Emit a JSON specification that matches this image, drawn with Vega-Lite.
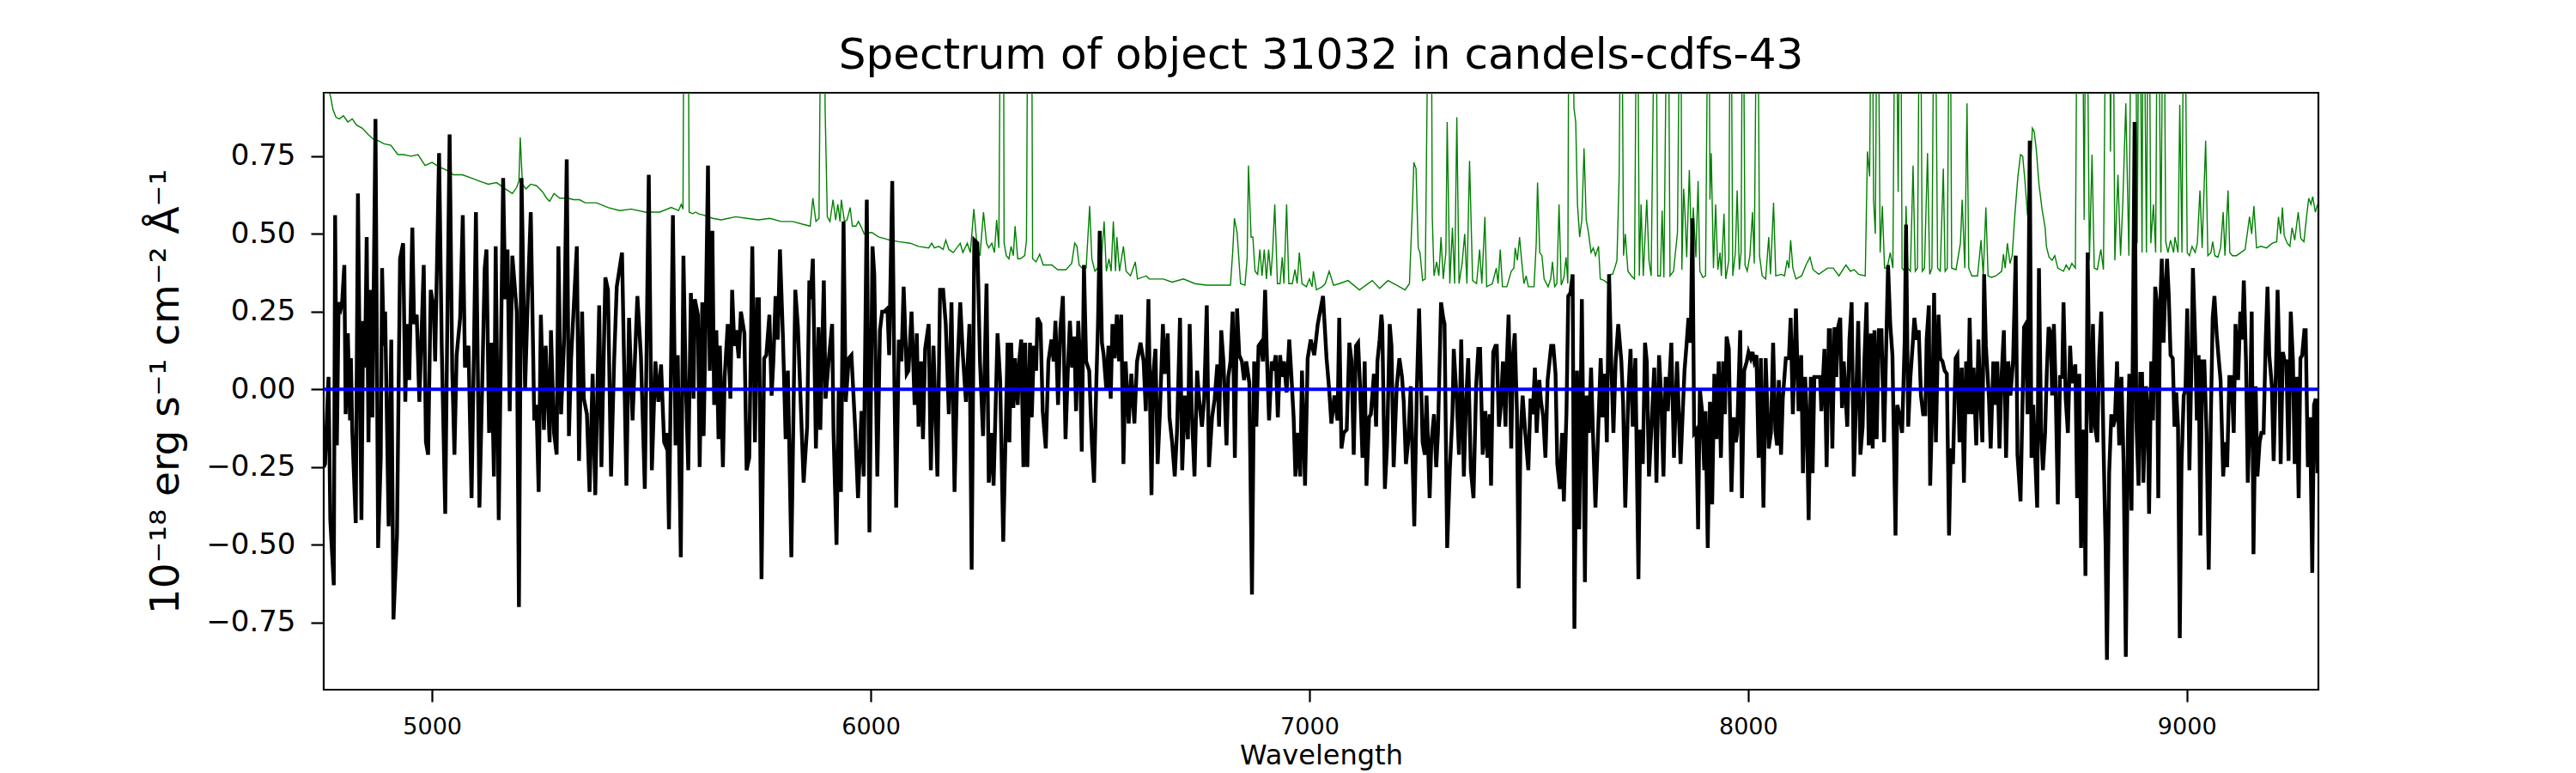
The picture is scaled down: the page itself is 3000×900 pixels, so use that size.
{
  "$schema": "https://vega.github.io/schema/vega-lite/v6.json",
  "autosize": {"type": "none"},
  "padding": {"left": 377, "top": 108, "right": 300, "bottom": 97},
  "width": 2323,
  "height": 695,
  "background": "white",
  "config": {
    "font": "DejaVu Sans",
    "view": {"stroke": "black", "strokeWidth": 2.2},
    "axis": {
      "grid": false,
      "domain": false,
      "tickColor": "black",
      "tickWidth": 2.2,
      "labelColor": "black",
      "titleColor": "black",
      "titleFontWeight": "normal",
      "labelFont": "DejaVu Sans",
      "titleFont": "DejaVu Sans"
    }
  },
  "title": {
    "text": "Spectrum of object 31032 in candels-cdfs-43",
    "font": "DejaVu Sans",
    "fontSize": 50,
    "fontWeight": "normal",
    "color": "black",
    "anchor": "middle",
    "frame": "group",
    "baseline": "bottom",
    "offset": 13,
    "dy": 45
  },
  "datasets": {
    "flux": [
      {"w":4753,"f":-0.25},{"w":4756,"f":-0.24},{"w":4764,"f":0.04},{"w":4768,"f":-0.42},{"w":4776,"f":-0.63},{"w":4779,"f":0.56},{"w":4783,"f":-0.18},{"w":4787,"f":0.28},{"w":4792,"f":0.26},{"w":4795,"f":0.28},
      {"w":4800,"f":0.40},{"w":4803,"f":-0.08},{"w":4808,"f":0.18},{"w":4813,"f":-0.10},{"w":4815,"f":0.10},{"w":4818,"f":-0.13},{"w":4826,"f":-0.43},{"w":4831,"f":0.63},{"w":4839,"f":-0.42},{"w":4843,"f":0.22},
      {"w":4847,"f":0.07},{"w":4851,"f":0.49},{"w":4855,"f":-0.17},{"w":4859,"f":0.32},{"w":4864,"f":-0.09},{"w":4867,"f":0.33},{"w":4871,"f":0.87},{"w":4877,"f":-0.51},{"w":4883,"f":-0.22},{"w":4886,"f":0.39},
      {"w":4890,"f":0.14},{"w":4893,"f":0.25},{"w":4901,"f":-0.44},{"w":4907,"f":0.16},{"w":4912,"f":-0.74},{"w":4920,"f":-0.47},{"w":4927,"f":0.42},{"w":4934,"f":0.47},{"w":4939,"f":-0.04},{"w":4943,"f":0.21},
      {"w":4948,"f":0.03},{"w":4955,"f":0.52},{"w":4959,"f":0.21},{"w":4965,"f":0.24},{"w":4971,"f":-0.04},{"w":4981,"f":0.40},{"w":4986,"f":-0.17},{"w":4991,"f":-0.21},{"w":4997,"f":0.32},{"w":5004,"f":0.26},
      {"w":5007,"f":0.09},{"w":5016,"f":0.76},{"w":5022,"f":0.14},{"w":5030,"f":-0.40},{"w":5034,"f":0.12},{"w":5040,"f":0.82},{"w":5046,"f":0.06},{"w":5051,"f":-0.21},{"w":5056,"f":0.11},{"w":5064,"f":0.23},
      {"w":5070,"f":0.56},{"w":5075,"f":0.07},{"w":5083,"f":0.14},{"w":5090,"f":-0.35},{"w":5095,"f":0.09},{"w":5100,"f":0.57},{"w":5108,"f":-0.38},{"w":5115,"f":0.06},{"w":5120,"f":0.39},{"w":5124,"f":0.45},
      {"w":5130,"f":-0.14},{"w":5135,"f":0.15},{"w":5141,"f":-0.28},{"w":5145,"f":0.46},{"w":5152,"f":-0.42},{"w":5162,"f":0.68},{"w":5167,"f":0.29},{"w":5172,"f":0.45},{"w":5177,"f":-0.07},{"w":5183,"f":0.43},
      {"w":5193,"f":0.25},{"w":5198,"f":-0.70},{"w":5204,"f":0.68},{"w":5212,"f":0.00},{"w":5219,"f":0.33},{"w":5225,"f":0.57},{"w":5233,"f":-0.10},{"w":5238,"f":-0.05},{"w":5243,"f":-0.33},{"w":5248,"f":0.24},
      {"w":5255,"f":-0.13},{"w":5259,"f":0.14},{"w":5268,"f":-0.17},{"w":5271,"f":0.19},{"w":5278,"f":-0.14},{"w":5284,"f":-0.21},{"w":5288,"f":0.46},{"w":5294,"f":-0.08},{"w":5301,"f":0.16},{"w":5307,"f":0.74},
      {"w":5312,"f":-0.15},{"w":5317,"f":0.10},{"w":5330,"f":0.46},{"w":5335,"f":-0.23},{"w":5342,"f":0.25},{"w":5346,"f":-0.03},{"w":5353,"f":-0.08},{"w":5359,"f":-0.33},{"w":5366,"f":0.05},{"w":5372,"f":-0.34},
      {"w":5381,"f":0.27},{"w":5386,"f":-0.25},{"w":5395,"f":0.36},{"w":5401,"f":0.32},{"w":5408,"f":-0.28},{"w":5415,"f":0.09},{"w":5421,"f":0.33},{"w":5433,"f":0.44},{"w":5443,"f":-0.31},{"w":5449,"f":0.23},
      {"w":5457,"f":-0.10},{"w":5468,"f":0.30},{"w":5476,"f":0.11},{"w":5485,"f":-0.32},{"w":5494,"f":0.69},{"w":5501,"f":-0.26},{"w":5509,"f":0.09},{"w":5516,"f":-0.04},{"w":5522,"f":0.08},{"w":5529,"f":-0.17},
      {"w":5532,"f":-0.18},{"w":5536,"f":-0.14},{"w":5540,"f":-0.45},{"w":5549,"f":0.56},{"w":5555,"f":-0.18},{"w":5560,"f":0.11},{"w":5567,"f":-0.54},{"w":5573,"f":0.43},{"w":5578,"f":0.04},{"w":5584,"f":-0.26},
      {"w":5590,"f":0.31},{"w":5596,"f":-0.03},{"w":5599,"f":0.29},{"w":5606,"f":0.24},{"w":5610,"f":-0.25},{"w":5616,"f":0.28},{"w":5619,"f":-0.15},{"w":5624,"f":0.24},{"w":5629,"f":0.72},{"w":5633,"f":0.06},
      {"w":5639,"f":0.51},{"w":5643,"f":-0.05},{"w":5648,"f":0.19},{"w":5653,"f":-0.16},{"w":5656,"f":0.14},{"w":5663,"f":-0.25},{"w":5667,"f":0.04},{"w":5674,"f":0.21},{"w":5680,"f":-0.03},{"w":5684,"f":0.32},
      {"w":5689,"f":0.14},{"w":5693,"f":0.19},{"w":5699,"f":0.10},{"w":5704,"f":0.25},{"w":5712,"f":0.18},{"w":5717,"f":-0.26},{"w":5723,"f":-0.22},{"w":5730,"f":0.46},{"w":5736,"f":-0.17},{"w":5741,"f":0.29},
      {"w":5745,"f":0.29},{"w":5751,"f":-0.61},{"w":5757,"f":0.10},{"w":5762,"f":0.11},{"w":5769,"f":0.24},{"w":5774,"f":-0.02},{"w":5778,"f":0.09},{"w":5783,"f":0.30},{"w":5788,"f":0.16},{"w":5793,"f":0.45},
      {"w":5800,"f":0.16},{"w":5806,"f":-0.16},{"w":5811,"f":0.06},{"w":5819,"f":-0.54},{"w":5828,"f":0.32},{"w":5834,"f":0.20},{"w":5841,"f":-0.07},{"w":5847,"f":-0.30},{"w":5855,"f":-0.12},{"w":5860,"f":0.35},
      {"w":5863,"f":0.29},{"w":5868,"f":0.42},{"w":5875,"f":-0.19},{"w":5881,"f":0.20},{"w":5885,"f":-0.13},{"w":5893,"f":0.35},{"w":5897,"f":-0.03},{"w":5904,"f":0.09},{"w":5912,"f":0.21},{"w":5915,"f":-0.13},
      {"w":5922,"f":-0.50},{"w":5927,"f":0.00},{"w":5932,"f":-0.33},{"w":5938,"f":0.54},{"w":5943,"f":-0.04},{"w":5950,"f":0.10},{"w":5956,"f":0.11},{"w":5965,"f":-0.14},{"w":5971,"f":-0.35},{"w":5979,"f":-0.07},
      {"w":5984,"f":-0.28},{"w":5991,"f":0.61},{"w":5997,"f":-0.46},{"w":6004,"f":0.46},{"w":6008,"f":0.37},{"w":6015,"f":-0.28},{"w":6021,"f":0.19},{"w":6026,"f":0.25},{"w":6031,"f":0.25},{"w":6038,"f":0.26},
      {"w":6042,"f":0.11},{"w":6049,"f":0.67},{"w":6054,"f":0.01},{"w":6058,"f":-0.38},{"w":6064,"f":0.16},{"w":6070,"f":0.09},{"w":6075,"f":0.33},{"w":6082,"f":0.05},{"w":6086,"f":0.06},{"w":6093,"f":0.25},
      {"w":6100,"f":-0.05},{"w":6105,"f":0.18},{"w":6109,"f":-0.12},{"w":6115,"f":0.09},{"w":6119,"f":-0.16},{"w":6124,"f":0.13},{"w":6132,"f":0.21},{"w":6137,"f":-0.26},{"w":6143,"f":0.14},{"w":6152,"f":-0.28},
      {"w":6158,"f":0.32},{"w":6165,"f":0.32},{"w":6171,"f":0.21},{"w":6178,"f":-0.08},{"w":6184,"f":0.28},{"w":6191,"f":-0.33},{"w":6197,"f":0.05},{"w":6204,"f":0.28},{"w":6210,"f":0.11},{"w":6217,"f":-0.04},
      {"w":6225,"f":0.21},{"w":6230,"f":-0.58},{"w":6236,"f":0.48},{"w":6243,"f":0.47},{"w":6249,"f":0.09},{"w":6256,"f":-0.15},{"w":6264,"f":0.34},{"w":6269,"f":-0.30},{"w":6276,"f":-0.14},{"w":6280,"f":-0.31},
      {"w":6289,"f":0.18},{"w":6295,"f":0.03},{"w":6302,"f":-0.49},{"w":6312,"f":0.15},{"w":6316,"f":-0.17},{"w":6320,"f":0.15},{"w":6325,"f":-0.06},{"w":6329,"f":0.10},{"w":6335,"f":-0.05},{"w":6339,"f":0.10},
      {"w":6343,"f":0.16},{"w":6348,"f":-0.25},{"w":6352,"f":0.15},{"w":6357,"f":-0.25},{"w":6363,"f":0.15},{"w":6367,"f":-0.09},{"w":6372,"f":0.14},{"w":6377,"f":0.06},{"w":6380,"f":0.23},{"w":6387,"f":0.21},
      {"w":6392,"f":-0.07},{"w":6399,"f":-0.19},{"w":6405,"f":0.09},{"w":6412,"f":0.16},{"w":6417,"f":0.09},{"w":6421,"f":0.22},{"w":6427,"f":-0.05},{"w":6432,"f":0.19},{"w":6438,"f":0.30},{"w":6444,"f":-0.16},
      {"w":6449,"f":0.05},{"w":6454,"f":0.22},{"w":6459,"f":0.07},{"w":6464,"f":0.17},{"w":6468,"f":-0.07},{"w":6473,"f":0.22},{"w":6477,"f":0.10},{"w":6481,"f":-0.20},{"w":6486,"f":0.40},{"w":6491,"f":0.09},
      {"w":6498,"f":0.06},{"w":6504,"f":-0.17},{"w":6509,"f":-0.30},{"w":6514,"f":0.01},{"w":6518,"f":0.21},{"w":6522,"f":0.51},{"w":6527,"f":0.15},{"w":6531,"f":0.11},{"w":6537,"f":0.00},{"w":6542,"f":0.14},
      {"w":6547,"f":-0.03},{"w":6551,"f":0.21},{"w":6556,"f":0.10},{"w":6561,"f":0.24},{"w":6566,"f":0.09},{"w":6571,"f":0.24},{"w":6576,"f":-0.24},{"w":6581,"f":0.09},{"w":6588,"f":-0.11},{"w":6594,"f":0.05},
      {"w":6601,"f":-0.11},{"w":6607,"f":0.09},{"w":6615,"f":0.15},{"w":6622,"f":0.09},{"w":6627,"f":-0.07},{"w":6633,"f":0.29},{"w":6640,"f":-0.34},{"w":6644,"f":0.05},{"w":6649,"f":0.13},{"w":6654,"f":-0.24},
      {"w":6659,"f":-0.08},{"w":6666,"f":0.21},{"w":6670,"f":0.05},{"w":6677,"f":0.18},{"w":6681,"f":-0.09},{"w":6687,"f":-0.17},{"w":6693,"f":-0.28},{"w":6698,"f":-0.14},{"w":6705,"f":0.23},{"w":6710,"f":-0.26},
      {"w":6716,"f":-0.02},{"w":6723,"f":-0.16},{"w":6727,"f":0.21},{"w":6732,"f":-0.08},{"w":6738,"f":-0.28},{"w":6744,"f":0.06},{"w":6749,"f":-0.04},{"w":6755,"f":-0.12},{"w":6760,"f":-0.03},{"w":6766,"f":0.27},
      {"w":6771,"f":-0.25},{"w":6778,"f":-0.09},{"w":6784,"f":-0.03},{"w":6790,"f":0.08},{"w":6794,"f":-0.12},{"w":6799,"f":0.19},{"w":6804,"f":0.09},{"w":6811,"f":-0.18},{"w":6815,"f":0.04},{"w":6820,"f":0.09},
      {"w":6825,"f":0.25},{"w":6830,"f":-0.22},{"w":6835,"f":0.26},{"w":6840,"f":0.11},{"w":6846,"f":0.09},{"w":6851,"f":0.03},{"w":6856,"f":0.09},{"w":6863,"f":0.02},{"w":6869,"f":-0.66},{"w":6874,"f":0.09},
      {"w":6879,"f":-0.12},{"w":6884,"f":0.14},{"w":6889,"f":0.15},{"w":6894,"f":0.09},{"w":6899,"f":0.32},{"w":6903,"f":0.11},{"w":6908,"f":-0.10},{"w":6914,"f":0.09},{"w":6918,"f":0.06},{"w":6923,"f":0.11},
      {"w":6928,"f":-0.09},{"w":6933,"f":0.11},{"w":6938,"f":0.04},{"w":6942,"f":0.09},{"w":6948,"f":-0.01},{"w":6954,"f":0.16},{"w":6959,"f":0.04},{"w":6964,"f":-0.09},{"w":6968,"f":-0.28},{"w":6974,"f":-0.14},
      {"w":6979,"f":-0.28},{"w":6983,"f":0.06},{"w":6990,"f":-0.31},{"w":6996,"f":0.10},{"w":7003,"f":0.16},{"w":7011,"f":0.11},{"w":7019,"f":0.21},{"w":7031,"f":0.30},{"w":7039,"f":0.10},{"w":7045,"f":0.00},
      {"w":7050,"f":-0.11},{"w":7057,"f":-0.02},{"w":7064,"f":-0.10},{"w":7068,"f":0.23},{"w":7073,"f":-0.19},{"w":7078,"f":-0.14},{"w":7085,"f":-0.13},{"w":7091,"f":0.15},{"w":7096,"f":0.09},{"w":7101,"f":-0.21},
      {"w":7106,"f":0.14},{"w":7111,"f":0.15},{"w":7115,"f":0.02},{"w":7121,"f":-0.22},{"w":7126,"f":0.09},{"w":7130,"f":-0.31},{"w":7136,"f":-0.09},{"w":7140,"f":-0.08},{"w":7147,"f":0.05},{"w":7152,"f":-0.12},
      {"w":7155,"f":0.09},{"w":7160,"f":0.16},{"w":7164,"f":0.24},{"w":7166,"f":0.21},{"w":7172,"f":-0.32},{"w":7177,"f":-0.18},{"w":7183,"f":0.21},{"w":7187,"f":0.14},{"w":7192,"f":-0.25},{"w":7199,"f":0.01},
      {"w":7205,"f":0.10},{"w":7211,"f":0.04},{"w":7215,"f":-0.04},{"w":7220,"f":-0.24},{"w":7225,"f":-0.17},{"w":7231,"f":0.01},{"w":7239,"f":-0.44},{"w":7245,"f":0.01},{"w":7250,"f":0.26},{"w":7258,"f":-0.17},
      {"w":7263,"f":-0.21},{"w":7267,"f":-0.02},{"w":7274,"f":-0.35},{"w":7278,"f":-0.17},{"w":7284,"f":-0.08},{"w":7289,"f":-0.25},{"w":7293,"f":-0.14},{"w":7300,"f":0.28},{"w":7305,"f":0.23},{"w":7308,"f":0.21},
      {"w":7314,"f":-0.51},{"w":7320,"f":-0.26},{"w":7326,"f":-0.08},{"w":7329,"f":0.13},{"w":7336,"f":-0.04},{"w":7341,"f":-0.21},{"w":7346,"f":0.16},{"w":7352,"f":-0.28},{"w":7357,"f":-0.04},{"w":7362,"f":0.10},
      {"w":7368,"f":-0.26},{"w":7374,"f":-0.35},{"w":7380,"f":0.01},{"w":7385,"f":0.13},{"w":7389,"f":0.13},{"w":7395,"f":-0.21},{"w":7401,"f":-0.07},{"w":7406,"f":-0.22},{"w":7411,"f":-0.08},{"w":7414,"f":-0.31},
      {"w":7419,"f":0.12},{"w":7424,"f":0.14},{"w":7427,"f":0.14},{"w":7432,"f":-0.12},{"w":7437,"f":-0.04},{"w":7441,"f":0.09},{"w":7447,"f":-0.12},{"w":7450,"f":0.09},{"w":7454,"f":0.24},{"w":7460,"f":-0.19},
      {"w":7464,"f":0.11},{"w":7468,"f":0.18},{"w":7473,"f":-0.07},{"w":7477,"f":-0.64},{"w":7481,"f":-0.16},{"w":7486,"f":-0.02},{"w":7492,"f":-0.14},{"w":7499,"f":-0.26},{"w":7504,"f":-0.03},{"w":7509,"f":-0.08},
      {"w":7514,"f":0.07},{"w":7518,"f":-0.14},{"w":7524,"f":0.03},{"w":7528,"f":-0.04},{"w":7533,"f":-0.09},{"w":7538,"f":-0.22},{"w":7543,"f":0.03},{"w":7551,"f":0.14},{"w":7556,"f":0.14},{"w":7561,"f":0.05},
      {"w":7565,"f":-0.24},{"w":7571,"f":-0.32},{"w":7576,"f":-0.14},{"w":7580,"f":-0.36},{"w":7586,"f":-0.07},{"w":7590,"f":0.30},{"w":7595,"f":0.31},{"w":7600,"f":0.37},{"w":7604,"f":-0.77},{"w":7610,"f":0.06},
      {"w":7615,"f":-0.45},{"w":7621,"f":0.29},{"w":7628,"f":-0.62},{"w":7632,"f":-0.02},{"w":7637,"f":-0.14},{"w":7642,"f":0.07},{"w":7647,"f":-0.17},{"w":7652,"f":-0.38},{"w":7659,"f":-0.10},{"w":7664,"f":0.10},
      {"w":7668,"f":-0.09},{"w":7674,"f":0.05},{"w":7678,"f":-0.17},{"w":7683,"f":0.37},{"w":7688,"f":0.09},{"w":7693,"f":-0.14},{"w":7698,"f":0.09},{"w":7704,"f":0.21},{"w":7711,"f":0.09},{"w":7715,"f":-0.04},
      {"w":7720,"f":-0.38},{"w":7727,"f":-0.01},{"w":7732,"f":0.13},{"w":7737,"f":-0.12},{"w":7743,"f":0.10},{"w":7750,"f":-0.61},{"w":7754,"f":-0.13},{"w":7760,"f":-0.24},{"w":7765,"f":0.15},{"w":7769,"f":0.09},
      {"w":7774,"f":-0.28},{"w":7779,"f":-0.14},{"w":7786,"f":0.07},{"w":7791,"f":-0.30},{"w":7797,"f":0.11},{"w":7802,"f":-0.03},{"w":7807,"f":-0.28},{"w":7812,"f":0.04},{"w":7817,"f":-0.07},{"w":7825,"f":0.15},
      {"w":7831,"f":-0.22},{"w":7838,"f":0.09},{"w":7846,"f":-0.24},{"w":7855,"f":0.06},{"w":7860,"f":0.15},{"w":7864,"f":0.23},{"w":7869,"f":0.15},{"w":7873,"f":0.55},{"w":7877,"f":-0.14},{"w":7882,"f":-0.13},
      {"w":7886,"f":-0.45},{"w":7890,"f":0.00},{"w":7895,"f":-0.07},{"w":7900,"f":-0.26},{"w":7903,"f":-0.07},{"w":7908,"f":-0.51},{"w":7913,"f":-0.04},{"w":7918,"f":-0.37},{"w":7923,"f":0.05},{"w":7928,"f":-0.16},
      {"w":7933,"f":0.09},{"w":7938,"f":-0.22},{"w":7943,"f":0.09},{"w":7947,"f":-0.08},{"w":7951,"f":0.17},{"w":7956,"f":0.13},{"w":7962,"f":-0.33},{"w":7967,"f":-0.09},{"w":7972,"f":-0.17},{"w":7975,"f":-0.14},
      {"w":7982,"f":0.19},{"w":7986,"f":-0.35},{"w":7991,"f":0.06},{"w":7997,"f":0.09},{"w":8001,"f":0.12},{"w":8006,"f":0.10},{"w":8010,"f":0.12},{"w":8014,"f":0.09},{"w":8019,"f":0.11},{"w":8024,"f":-0.22},
      {"w":8029,"f":0.10},{"w":8035,"f":-0.38},{"w":8040,"f":0.10},{"w":8047,"f":-0.19},{"w":8052,"f":-0.14},{"w":8057,"f":0.15},{"w":8062,"f":-0.13},{"w":8066,"f":-0.18},{"w":8070,"f":0.03},{"w":8075,"f":-0.21},
      {"w":8079,"f":-0.03},{"w":8086,"f":0.10},{"w":8093,"f":0.10},{"w":8097,"f":0.23},{"w":8102,"f":-0.08},{"w":8109,"f":0.26},{"w":8115,"f":-0.07},{"w":8121,"f":0.11},{"w":8125,"f":-0.27},{"w":8130,"f":0.04},
      {"w":8134,"f":-0.09},{"w":8138,"f":-0.42},{"w":8143,"f":0.04},{"w":8147,"f":-0.27},{"w":8151,"f":0.04},{"w":8158,"f":0.04},{"w":8164,"f":0.04},{"w":8167,"f":-0.07},{"w":8174,"f":0.13},{"w":8179,"f":-0.25},
      {"w":8184,"f":0.19},{"w":8187,"f":0.19},{"w":8192,"f":-0.19},{"w":8197,"f":0.20},{"w":8201,"f":0.04},{"w":8205,"f":0.20},{"w":8210,"f":0.23},{"w":8214,"f":-0.06},{"w":8218,"f":0.09},{"w":8226,"f":-0.12},
      {"w":8231,"f":0.16},{"w":8236,"f":0.28},{"w":8241,"f":-0.28},{"w":8246,"f":-0.04},{"w":8251,"f":0.22},{"w":8256,"f":-0.21},{"w":8261,"f":-0.12},{"w":8265,"f":0.09},{"w":8270,"f":0.28},{"w":8275,"f":-0.18},
      {"w":8280,"f":0.18},{"w":8284,"f":-0.19},{"w":8288,"f":0.19},{"w":8293,"f":-0.16},{"w":8298,"f":0.19},{"w":8304,"f":0.19},{"w":8310,"f":-0.17},{"w":8314,"f":0.09},{"w":8319,"f":0.40},{"w":8324,"f":0.21},
      {"w":8329,"f":0.11},{"w":8336,"f":-0.47},{"w":8340,"f":-0.05},{"w":8345,"f":-0.08},{"w":8351,"f":-0.14},{"w":8357,"f":0.16},{"w":8360,"f":0.53},{"w":8365,"f":-0.12},{"w":8370,"f":0.04},{"w":8375,"f":0.14},
      {"w":8379,"f":0.23},{"w":8384,"f":0.16},{"w":8389,"f":0.19},{"w":8394,"f":-0.02},{"w":8399,"f":-0.08},{"w":8404,"f":-0.08},{"w":8407,"f":0.16},{"w":8412,"f":0.27},{"w":8415,"f":-0.31},{"w":8420,"f":-0.04},
      {"w":8424,"f":0.31},{"w":8428,"f":-0.17},{"w":8434,"f":0.24},{"w":8438,"f":0.10},{"w":8443,"f":0.09},{"w":8448,"f":0.06},{"w":8453,"f":0.05},{"w":8458,"f":-0.47},{"w":8462,"f":-0.19},{"w":8467,"f":-0.24},
      {"w":8473,"f":0.10},{"w":8477,"f":0.11},{"w":8482,"f":-0.17},{"w":8487,"f":0.07},{"w":8492,"f":-0.30},{"w":8497,"f":0.09},{"w":8501,"f":-0.08},{"w":8505,"f":0.23},{"w":8510,"f":-0.08},{"w":8514,"f":0.07},
      {"w":8520,"f":-0.18},{"w":8525,"f":0.16},{"w":8529,"f":-0.02},{"w":8534,"f":-0.17},{"w":8538,"f":0.37},{"w":8542,"f":0.14},{"w":8549,"f":-0.03},{"w":8553,"f":-0.19},{"w":8559,"f":0.09},{"w":8564,"f":-0.05},
      {"w":8568,"f":0.09},{"w":8573,"f":-0.19},{"w":8578,"f":0.05},{"w":8583,"f":0.19},{"w":8588,"f":-0.22},{"w":8593,"f":0.09},{"w":8598,"f":-0.02},{"w":8604,"f":0.09},{"w":8610,"f":0.43},{"w":8614,"f":-0.21},
      {"w":8621,"f":-0.36},{"w":8629,"f":0.20},{"w":8633,"f":0.21},{"w":8637,"f":-0.08},{"w":8642,"f":0.80},{"w":8646,"f":-0.22},{"w":8650,"f":-0.05},{"w":8655,"f":-0.24},{"w":8659,"f":-0.38},{"w":8663,"f":0.39},
      {"w":8668,"f":-0.14},{"w":8672,"f":-0.26},{"w":8677,"f":-0.14},{"w":8681,"f":0.06},{"w":8685,"f":0.20},{"w":8690,"f":0.18},{"w":8693,"f":-0.02},{"w":8697,"f":0.21},{"w":8701,"f":0.01},{"w":8706,"f":-0.37},
      {"w":8711,"f":0.04},{"w":8716,"f":0.04},{"w":8719,"f":0.28},{"w":8724,"f":-0.03},{"w":8729,"f":-0.14},{"w":8734,"f":0.14},{"w":8738,"f":0.02},{"w":8746,"f":0.08},{"w":8750,"f":-0.35},{"w":8755,"f":0.05},
      {"w":8759,"f":-0.51},{"w":8765,"f":-0.13},{"w":8769,"f":-0.60},{"w":8774,"f":0.44},{"w":8778,"f":0.02},{"w":8782,"f":-0.14},{"w":8786,"f":0.21},{"w":8791,"f":-0.12},{"w":8796,"f":-0.17},{"w":8800,"f":0.09},
      {"w":8805,"f":0.25},{"w":8810,"f":-0.17},{"w":8815,"f":-0.51},{"w":8818,"f":-0.87},{"w":8823,"f":-0.27},{"w":8828,"f":-0.08},{"w":8832,"f":-0.12},{"w":8836,"f":-0.10},{"w":8841,"f":0.09},{"w":8846,"f":-0.18},
      {"w":8851,"f":0.04},{"w":8856,"f":-0.24},{"w":8861,"f":-0.86},{"w":8866,"f":-0.12},{"w":8869,"f":0.05},{"w":8874,"f":-0.39},{"w":8881,"f":0.86},{"w":8885,"f":-0.10},{"w":8890,"f":-0.31},{"w":8894,"f":0.05},
      {"w":8898,"f":0.05},{"w":8901,"f":-0.30},{"w":8907,"f":0.01},{"w":8911,"f":-0.08},{"w":8914,"f":-0.40},{"w":8919,"f":0.09},{"w":8923,"f":-0.10},{"w":8928,"f":0.33},{"w":8931,"f":0.29},{"w":8935,"f":-0.35},
      {"w":8939,"f":0.25},{"w":8943,"f":0.42},{"w":8947,"f":0.15},{"w":8950,"f":0.28},{"w":8955,"f":0.42},{"w":8959,"f":0.30},{"w":8963,"f":0.11},{"w":8968,"f":0.10},{"w":8972,"f":-0.12},{"w":8976,"f":-0.01},
      {"w":8980,"f":-0.12},{"w":8984,"f":-0.80},{"w":8988,"f":-0.24},{"w":8993,"f":-0.02},{"w":8997,"f":0.00},{"w":9001,"f":0.26},{"w":9006,"f":-0.26},{"w":9010,"f":0.04},{"w":9014,"f":0.39},{"w":9019,"f":0.16},
      {"w":9023,"f":-0.10},{"w":9027,"f":0.11},{"w":9031,"f":-0.47},{"w":9035,"f":0.09},{"w":9040,"f":0.09},{"w":9045,"f":-0.14},{"w":9050,"f":-0.58},{"w":9055,"f":-0.08},{"w":9059,"f":0.23},{"w":9063,"f":0.30},
      {"w":9068,"f":0.18},{"w":9072,"f":0.11},{"w":9077,"f":0.03},{"w":9083,"f":-0.28},{"w":9087,"f":-0.17},{"w":9092,"f":-0.25},{"w":9097,"f":0.04},{"w":9102,"f":0.04},{"w":9107,"f":-0.14},{"w":9111,"f":0.21},
      {"w":9117,"f":0.03},{"w":9122,"f":0.25},{"w":9126,"f":0.16},{"w":9130,"f":0.35},{"w":9135,"f":0.09},{"w":9139,"f":-0.30},{"w":9144,"f":-0.07},{"w":9148,"f":0.25},{"w":9152,"f":-0.53},{"w":9157,"f":0.01},
      {"w":9161,"f":-0.28},{"w":9166,"f":-0.17},{"w":9170,"f":-0.14},{"w":9175,"f":-0.14},{"w":9180,"f":0.16},{"w":9184,"f":0.33},{"w":9188,"f":0.11},{"w":9194,"f":0.01},{"w":9198,"f":-0.23},{"w":9203,"f":0.05},
      {"w":9207,"f":0.32},{"w":9211,"f":0.09},{"w":9214,"f":-0.24},{"w":9219,"f":0.12},{"w":9223,"f":0.09},{"w":9227,"f":0.09},{"w":9232,"f":-0.23},{"w":9237,"f":0.25},{"w":9242,"f":0.09},{"w":9246,"f":-0.24},
      {"w":9250,"f":0.04},{"w":9255,"f":-0.35},{"w":9259,"f":0.10},{"w":9263,"f":0.11},{"w":9268,"f":0.19},{"w":9271,"f":0.19},{"w":9276,"f":-0.25},{"w":9281,"f":-0.09},{"w":9286,"f":-0.59},{"w":9290,"f":-0.05},
      {"w":9294,"f":-0.03},{"w":9298,"f":-0.27}
    ],
    "err": [
      {"w":4753,"e":0.954},{"w":4766,"e":0.954},{"w":4769,"e":0.94},{"w":4774,"e":0.90},{"w":4781,"e":0.875},{"w":4789,"e":0.87},{"w":4798,"e":0.88},{"w":4808,"e":0.86},{"w":4818,"e":0.87},{"w":4828,"e":0.85},{"w":4841,"e":0.84},
      {"w":4854,"e":0.82},{"w":4866,"e":0.805},{"w":4877,"e":0.80},{"w":4890,"e":0.79},{"w":4906,"e":0.785},{"w":4922,"e":0.755},{"w":4935,"e":0.755},{"w":4952,"e":0.75},{"w":4968,"e":0.755},{"w":4984,"e":0.72},
      {"w":5000,"e":0.73},{"w":5017,"e":0.715},{"w":5033,"e":0.705},{"w":5049,"e":0.69},{"w":5069,"e":0.69},{"w":5089,"e":0.68},{"w":5108,"e":0.67},{"w":5128,"e":0.66},{"w":5147,"e":0.665},{"w":5167,"e":0.645},
      {"w":5183,"e":0.63},{"w":5193,"e":0.65},{"w":5198,"e":0.67},{"w":5201,"e":0.81},{"w":5206,"e":0.66},{"w":5214,"e":0.645},{"w":5225,"e":0.66},{"w":5238,"e":0.655},{"w":5252,"e":0.635},{"w":5261,"e":0.615},
      {"w":5268,"e":0.605},{"w":5278,"e":0.63},{"w":5291,"e":0.615},{"w":5310,"e":0.615},{"w":5323,"e":0.61},{"w":5336,"e":0.61},{"w":5349,"e":0.60},{"w":5375,"e":0.60},{"w":5401,"e":0.585},{"w":5428,"e":0.575},
      {"w":5454,"e":0.58},{"w":5486,"e":0.57},{"w":5519,"e":0.57},{"w":5545,"e":0.585},{"w":5562,"e":0.575},{"w":5568,"e":0.595},{"w":5572,"e":0.58},{"w":5575,"e":1.6},{"w":5583,"e":1.6},{"w":5586,"e":0.57},
      {"w":5594,"e":0.565},{"w":5601,"e":0.57},{"w":5607,"e":0.565},{"w":5620,"e":0.56},{"w":5640,"e":0.55},{"w":5659,"e":0.545},{"w":5692,"e":0.555},{"w":5718,"e":0.55},{"w":5744,"e":0.545},{"w":5770,"e":0.55},
      {"w":5796,"e":0.54},{"w":5822,"e":0.54},{"w":5848,"e":0.53},{"w":5862,"e":0.525},{"w":5868,"e":0.615},{"w":5875,"e":0.54},{"w":5882,"e":0.55},{"w":5888,"e":1.6},{"w":5893,"e":1.6},{"w":5896,"e":0.9},
      {"w":5901,"e":0.555},{"w":5907,"e":0.54},{"w":5914,"e":0.61},{"w":5920,"e":0.545},{"w":5925,"e":0.595},{"w":5930,"e":0.54},{"w":5933,"e":0.61},{"w":5940,"e":0.54},{"w":5946,"e":0.545},{"w":5953,"e":0.585},
      {"w":5958,"e":0.525},{"w":5966,"e":0.525},{"w":5972,"e":0.54},{"w":5979,"e":0.52},{"w":5985,"e":0.50},{"w":6002,"e":0.505},{"w":6018,"e":0.49},{"w":6044,"e":0.48},{"w":6064,"e":0.475},{"w":6090,"e":0.47},
      {"w":6109,"e":0.46},{"w":6132,"e":0.455},{"w":6139,"e":0.47},{"w":6145,"e":0.455},{"w":6155,"e":0.46},{"w":6165,"e":0.45},{"w":6171,"e":0.48},{"w":6178,"e":0.45},{"w":6188,"e":0.44},{"w":6204,"e":0.47},
      {"w":6210,"e":0.44},{"w":6220,"e":0.47},{"w":6227,"e":0.44},{"w":6235,"e":0.58},{"w":6243,"e":0.45},{"w":6249,"e":0.43},{"w":6257,"e":0.57},{"w":6264,"e":0.47},{"w":6269,"e":0.455},{"w":6276,"e":0.47},
      {"w":6282,"e":0.44},{"w":6287,"e":0.545},{"w":6292,"e":0.455},{"w":6297,"e":1.6},{"w":6302,"e":1.6},{"w":6304,"e":0.47},{"w":6309,"e":0.43},{"w":6315,"e":0.42},{"w":6320,"e":0.46},{"w":6325,"e":0.43},
      {"w":6329,"e":0.525},{"w":6335,"e":0.42},{"w":6341,"e":0.42},{"w":6351,"e":0.43},{"w":6355,"e":0.48},{"w":6359,"e":1.6},{"w":6366,"e":1.6},{"w":6369,"e":0.42},{"w":6377,"e":0.41},{"w":6385,"e":0.435},
      {"w":6393,"e":0.40},{"w":6413,"e":0.40},{"w":6426,"e":0.385},{"w":6445,"e":0.385},{"w":6458,"e":0.405},{"w":6465,"e":0.47},{"w":6470,"e":0.46},{"w":6475,"e":0.40},{"w":6485,"e":0.385},{"w":6491,"e":0.39},
      {"w":6499,"e":0.59},{"w":6504,"e":0.42},{"w":6511,"e":0.38},{"w":6517,"e":0.39},{"w":6524,"e":0.38},{"w":6532,"e":0.54},{"w":6537,"e":0.38},{"w":6543,"e":0.42},{"w":6548,"e":0.38},{"w":6553,"e":0.54},
      {"w":6558,"e":0.38},{"w":6561,"e":0.49},{"w":6567,"e":0.38},{"w":6576,"e":0.46},{"w":6582,"e":0.38},{"w":6592,"e":0.365},{"w":6603,"e":0.41},{"w":6608,"e":0.355},{"w":6628,"e":0.365},{"w":6635,"e":0.355},
      {"w":6654,"e":0.355},{"w":6667,"e":0.355},{"w":6687,"e":0.345},{"w":6713,"e":0.355},{"w":6739,"e":0.34},{"w":6765,"e":0.335},{"w":6791,"e":0.335},{"w":6820,"e":0.335},{"w":6825,"e":0.44},{"w":6829,"e":0.55},
      {"w":6835,"e":0.505},{"w":6843,"e":0.34},{"w":6853,"e":0.335},{"w":6858,"e":0.42},{"w":6861,"e":0.72},{"w":6867,"e":0.49},{"w":6871,"e":0.49},{"w":6876,"e":0.38},{"w":6882,"e":0.37},{"w":6887,"e":0.45},
      {"w":6892,"e":0.365},{"w":6897,"e":0.45},{"w":6902,"e":0.355},{"w":6907,"e":0.45},{"w":6912,"e":0.365},{"w":6916,"e":0.44},{"w":6921,"e":0.595},{"w":6927,"e":0.34},{"w":6933,"e":0.34},{"w":6938,"e":0.425},
      {"w":6942,"e":0.34},{"w":6948,"e":0.595},{"w":6953,"e":0.34},{"w":6961,"e":0.34},{"w":6967,"e":0.385},{"w":6972,"e":0.34},{"w":6977,"e":0.44},{"w":6983,"e":0.34},{"w":6993,"e":0.33},{"w":7000,"e":0.355},
      {"w":7006,"e":0.33},{"w":7009,"e":0.38},{"w":7016,"e":0.32},{"w":7029,"e":0.33},{"w":7036,"e":0.34},{"w":7045,"e":0.38},{"w":7055,"e":0.335},{"w":7068,"e":0.34},{"w":7088,"e":0.35},{"w":7114,"e":0.32},
      {"w":7143,"e":0.35},{"w":7160,"e":0.325},{"w":7179,"e":0.35},{"w":7199,"e":0.335},{"w":7218,"e":0.32},{"w":7228,"e":0.34},{"w":7235,"e":0.595},{"w":7238,"e":0.73},{"w":7243,"e":0.71},{"w":7248,"e":0.455},
      {"w":7252,"e":0.44},{"w":7258,"e":0.35},{"w":7264,"e":0.355},{"w":7273,"e":1.6},{"w":7277,"e":1.6},{"w":7280,"e":0.555},{"w":7284,"e":0.365},{"w":7290,"e":0.41},{"w":7295,"e":0.365},{"w":7300,"e":0.49},
      {"w":7305,"e":0.355},{"w":7311,"e":0.44},{"w":7314,"e":0.86},{"w":7320,"e":0.34},{"w":7326,"e":0.52},{"w":7331,"e":0.34},{"w":7336,"e":0.875},{"w":7341,"e":0.34},{"w":7348,"e":0.405},{"w":7354,"e":0.50},
      {"w":7359,"e":0.34},{"w":7365,"e":0.735},{"w":7372,"e":0.35},{"w":7381,"e":0.34},{"w":7388,"e":0.45},{"w":7393,"e":0.34},{"w":7400,"e":0.555},{"w":7404,"e":0.33},{"w":7417,"e":0.34},{"w":7426,"e":0.39},
      {"w":7430,"e":0.34},{"w":7435,"e":0.45},{"w":7440,"e":0.33},{"w":7450,"e":0.33},{"w":7460,"e":0.38},{"w":7466,"e":0.39},{"w":7469,"e":0.455},{"w":7474,"e":0.415},{"w":7479,"e":0.49},{"w":7484,"e":0.41},
      {"w":7489,"e":0.34},{"w":7494,"e":0.365},{"w":7499,"e":0.33},{"w":7512,"e":0.33},{"w":7517,"e":0.47},{"w":7520,"e":0.665},{"w":7525,"e":0.44},{"w":7530,"e":0.43},{"w":7535,"e":0.355},{"w":7544,"e":0.33},
      {"w":7550,"e":0.355},{"w":7554,"e":0.41},{"w":7559,"e":0.33},{"w":7564,"e":0.34},{"w":7569,"e":0.595},{"w":7574,"e":0.335},{"w":7580,"e":0.36},{"w":7585,"e":0.425},{"w":7589,"e":0.34},{"w":7592,"e":1.6},
      {"w":7598,"e":1.6},{"w":7603,"e":0.905},{"w":7607,"e":0.86},{"w":7611,"e":0.595},{"w":7616,"e":0.49},{"w":7621,"e":0.545},{"w":7626,"e":0.775},{"w":7631,"e":0.545},{"w":7636,"e":0.505},{"w":7642,"e":0.44},
      {"w":7647,"e":0.455},{"w":7652,"e":0.43},{"w":7659,"e":0.46},{"w":7663,"e":0.355},{"w":7672,"e":0.35},{"w":7681,"e":0.34},{"w":7687,"e":0.37},{"w":7691,"e":0.37},{"w":7696,"e":0.39},{"w":7701,"e":0.415},
      {"w":7706,"e":0.685},{"w":7711,"e":1.6},{"w":7716,"e":0.43},{"w":7720,"e":0.50},{"w":7726,"e":0.38},{"w":7734,"e":0.365},{"w":7741,"e":0.355},{"w":7747,"e":1.6},{"w":7752,"e":0.365},{"w":7756,"e":0.595},
      {"w":7761,"e":0.365},{"w":7769,"e":0.61},{"w":7774,"e":0.415},{"w":7779,"e":0.365},{"w":7789,"e":1.6},{"w":7794,"e":0.365},{"w":7800,"e":0.365},{"w":7804,"e":0.575},{"w":7808,"e":0.36},{"w":7817,"e":1.6},
      {"w":7822,"e":0.365},{"w":7830,"e":0.38},{"w":7839,"e":0.505},{"w":7846,"e":1.6},{"w":7849,"e":0.385},{"w":7853,"e":0.645},{"w":7856,"e":0.57},{"w":7860,"e":0.425},{"w":7866,"e":0.705},{"w":7871,"e":0.45},
      {"w":7875,"e":0.585},{"w":7881,"e":0.425},{"w":7886,"e":0.67},{"w":7890,"e":0.38},{"w":7897,"e":0.36},{"w":7903,"e":0.365},{"w":7910,"e":1.6},{"w":7913,"e":0.61},{"w":7916,"e":0.76},{"w":7921,"e":0.39},
      {"w":7926,"e":0.595},{"w":7931,"e":0.385},{"w":7936,"e":0.44},{"w":7939,"e":0.365},{"w":7945,"e":0.565},{"w":7949,"e":0.355},{"w":7956,"e":0.415},{"w":7960,"e":1.6},{"w":7965,"e":0.365},{"w":7971,"e":0.44},
      {"w":7975,"e":0.64},{"w":7980,"e":0.385},{"w":7984,"e":0.44},{"w":7988,"e":1.6},{"w":7993,"e":0.40},{"w":7998,"e":0.38},{"w":8004,"e":0.43},{"w":8010,"e":0.57},{"w":8014,"e":0.405},{"w":8021,"e":1.6},
      {"w":8026,"e":0.43},{"w":8032,"e":0.365},{"w":8040,"e":0.355},{"w":8047,"e":0.49},{"w":8051,"e":0.37},{"w":8058,"e":0.60},{"w":8063,"e":0.365},{"w":8076,"e":0.37},{"w":8083,"e":0.365},{"w":8089,"e":0.415},
      {"w":8093,"e":0.39},{"w":8097,"e":0.48},{"w":8102,"e":0.39},{"w":8109,"e":0.355},{"w":8122,"e":0.365},{"w":8132,"e":0.40},{"w":8141,"e":0.425},{"w":8148,"e":0.385},{"w":8161,"e":0.37},{"w":8181,"e":0.39},
      {"w":8194,"e":0.39},{"w":8207,"e":0.365},{"w":8223,"e":0.40},{"w":8233,"e":0.38},{"w":8242,"e":0.385},{"w":8252,"e":0.37},{"w":8267,"e":0.365},{"w":8272,"e":0.765},{"w":8277,"e":0.685},{"w":8282,"e":1.6},
      {"w":8286,"e":0.61},{"w":8290,"e":0.50},{"w":8295,"e":1.6},{"w":8301,"e":0.44},{"w":8306,"e":0.59},{"w":8311,"e":0.39},{"w":8317,"e":0.39},{"w":8324,"e":0.44},{"w":8330,"e":0.39},{"w":8336,"e":1.6},
      {"w":8342,"e":0.635},{"w":8347,"e":1.6},{"w":8351,"e":0.39},{"w":8357,"e":0.38},{"w":8360,"e":0.59},{"w":8364,"e":0.39},{"w":8370,"e":0.38},{"w":8376,"e":0.72},{"w":8381,"e":0.38},{"w":8386,"e":0.39},
      {"w":8392,"e":1.6},{"w":8397,"e":0.38},{"w":8402,"e":0.39},{"w":8409,"e":0.76},{"w":8414,"e":0.37},{"w":8419,"e":0.39},{"w":8425,"e":1.6},{"w":8432,"e":0.39},{"w":8438,"e":0.38},{"w":8445,"e":0.71},
      {"w":8449,"e":0.38},{"w":8454,"e":0.39},{"w":8460,"e":1.6},{"w":8464,"e":0.39},{"w":8474,"e":0.385},{"w":8484,"e":0.47},{"w":8488,"e":0.61},{"w":8494,"e":0.39},{"w":8499,"e":0.92},{"w":8503,"e":0.39},
      {"w":8510,"e":0.365},{"w":8523,"e":0.365},{"w":8531,"e":0.48},{"w":8536,"e":0.365},{"w":8542,"e":0.585},{"w":8547,"e":0.365},{"w":8555,"e":0.36},{"w":8565,"e":0.365},{"w":8578,"e":0.38},{"w":8582,"e":0.435},
      {"w":8586,"e":0.39},{"w":8591,"e":0.47},{"w":8597,"e":0.405},{"w":8602,"e":0.43},{"w":8608,"e":0.56},{"w":8615,"e":0.685},{"w":8621,"e":0.755},{"w":8626,"e":0.75},{"w":8631,"e":0.67},{"w":8637,"e":0.56},
      {"w":8644,"e":0.72},{"w":8648,"e":0.84},{"w":8652,"e":0.83},{"w":8657,"e":0.77},{"w":8663,"e":0.66},{"w":8670,"e":0.58},{"w":8677,"e":0.52},{"w":8680,"e":0.46},{"w":8686,"e":0.425},{"w":8693,"e":0.415},
      {"w":8699,"e":0.43},{"w":8706,"e":0.39},{"w":8719,"e":0.38},{"w":8725,"e":0.40},{"w":8732,"e":0.385},{"w":8738,"e":0.405},{"w":8746,"e":0.39},{"w":8751,"e":1.6},{"w":8761,"e":1.6},{"w":8766,"e":0.545},
      {"w":8771,"e":1.6},{"w":8778,"e":0.415},{"w":8784,"e":0.755},{"w":8789,"e":0.39},{"w":8796,"e":0.385},{"w":8804,"e":0.45},{"w":8810,"e":0.385},{"w":8817,"e":1.6},{"w":8823,"e":1.6},{"w":8826,"e":0.765},
      {"w":8831,"e":1.6},{"w":8836,"e":0.415},{"w":8843,"e":0.69},{"w":8849,"e":0.43},{"w":8854,"e":0.595},{"w":8861,"e":0.92},{"w":8868,"e":0.43},{"w":8875,"e":1.6},{"w":8882,"e":1.6},{"w":8887,"e":0.47},
      {"w":8892,"e":1.6},{"w":8898,"e":0.44},{"w":8901,"e":1.6},{"w":8908,"e":0.44},{"w":8913,"e":1.6},{"w":8918,"e":0.47},{"w":8924,"e":0.595},{"w":8929,"e":0.44},{"w":8934,"e":1.6},{"w":8941,"e":0.44},
      {"w":8947,"e":1.6},{"w":8952,"e":0.475},{"w":8957,"e":0.44},{"w":8963,"e":0.48},{"w":8970,"e":0.44},{"w":8973,"e":0.49},{"w":8980,"e":0.44},{"w":8984,"e":0.915},{"w":8989,"e":0.44},{"w":8994,"e":1.6},
      {"w":9001,"e":0.44},{"w":9006,"e":0.43},{"w":9012,"e":0.46},{"w":9019,"e":0.44},{"w":9024,"e":0.47},{"w":9030,"e":0.64},{"w":9035,"e":0.455},{"w":9043,"e":0.80},{"w":9048,"e":0.43},{"w":9055,"e":0.44},
      {"w":9059,"e":0.475},{"w":9064,"e":0.43},{"w":9071,"e":0.425},{"w":9077,"e":0.455},{"w":9083,"e":0.57},{"w":9087,"e":0.43},{"w":9094,"e":0.64},{"w":9098,"e":0.44},{"w":9104,"e":0.43},{"w":9113,"e":0.43},
      {"w":9123,"e":0.44},{"w":9133,"e":0.45},{"w":9143,"e":0.555},{"w":9148,"e":0.50},{"w":9153,"e":0.59},{"w":9159,"e":0.455},{"w":9169,"e":0.46},{"w":9182,"e":0.455},{"w":9195,"e":0.47},{"w":9205,"e":0.475},
      {"w":9209,"e":0.555},{"w":9214,"e":0.50},{"w":9218,"e":0.585},{"w":9222,"e":0.495},{"w":9229,"e":0.47},{"w":9235,"e":0.46},{"w":9240,"e":0.52},{"w":9246,"e":0.48},{"w":9254,"e":0.57},{"w":9260,"e":0.485},
      {"w":9267,"e":0.475},{"w":9273,"e":0.555},{"w":9278,"e":0.615},{"w":9283,"e":0.595},{"w":9287,"e":0.62},{"w":9293,"e":0.57},{"w":9298,"e":0.595}
    ]
  },
  "encoding": {
    "x": {
      "field": "w",
      "type": "quantitative",
      "scale": {"domain": [4753, 9300], "nice": false, "zero": false},
      "axis": {
        "title": "Wavelength",
        "values": [5000, 6000, 7000, 8000, 9000],
        "format": "d",
        "labelFontSize": 27,
        "titleFontSize": 32,
        "tickSize": 14,
        "labelPadding": 16,
        "titlePadding": 5,
        "labelFlush": false
      }
    }
  },
  "layer": [
    {
      "data": {"name": "err"},
      "mark": {"type": "line", "color": "#008000", "strokeWidth": 1.4, "clip": true},
      "encoding": {
        "y": {
          "field": "e",
          "type": "quantitative",
          "scale": {"domain": [-0.966, 0.954], "nice": false, "zero": false},
          "axis": {
            "title": "10⁻¹⁸ erg s⁻¹ cm⁻² Å⁻¹",
            "values": [-0.75, -0.5, -0.25, 0, 0.25, 0.5, 0.75],
            "format": ".2f",
            "labelFontSize": 34,
            "titleFontSize": 47,
            "tickSize": 15,
            "labelPadding": 18,
            "titlePadding": 22
          }
        }
      }
    },
    {
      "data": {"name": "flux"},
      "mark": {"type": "line", "color": "black", "strokeWidth": 4.4, "clip": true},
      "encoding": {
        "y": {"field": "f", "type": "quantitative"}
      }
    },
    {
      "data": {"values": [{"w": 4753, "z": 0}, {"w": 9300, "z": 0}]},
      "mark": {"type": "line", "color": "#0000ff", "strokeWidth": 4, "clip": true},
      "encoding": {
        "y": {"field": "z", "type": "quantitative"}
      }
    }
  ]
}
